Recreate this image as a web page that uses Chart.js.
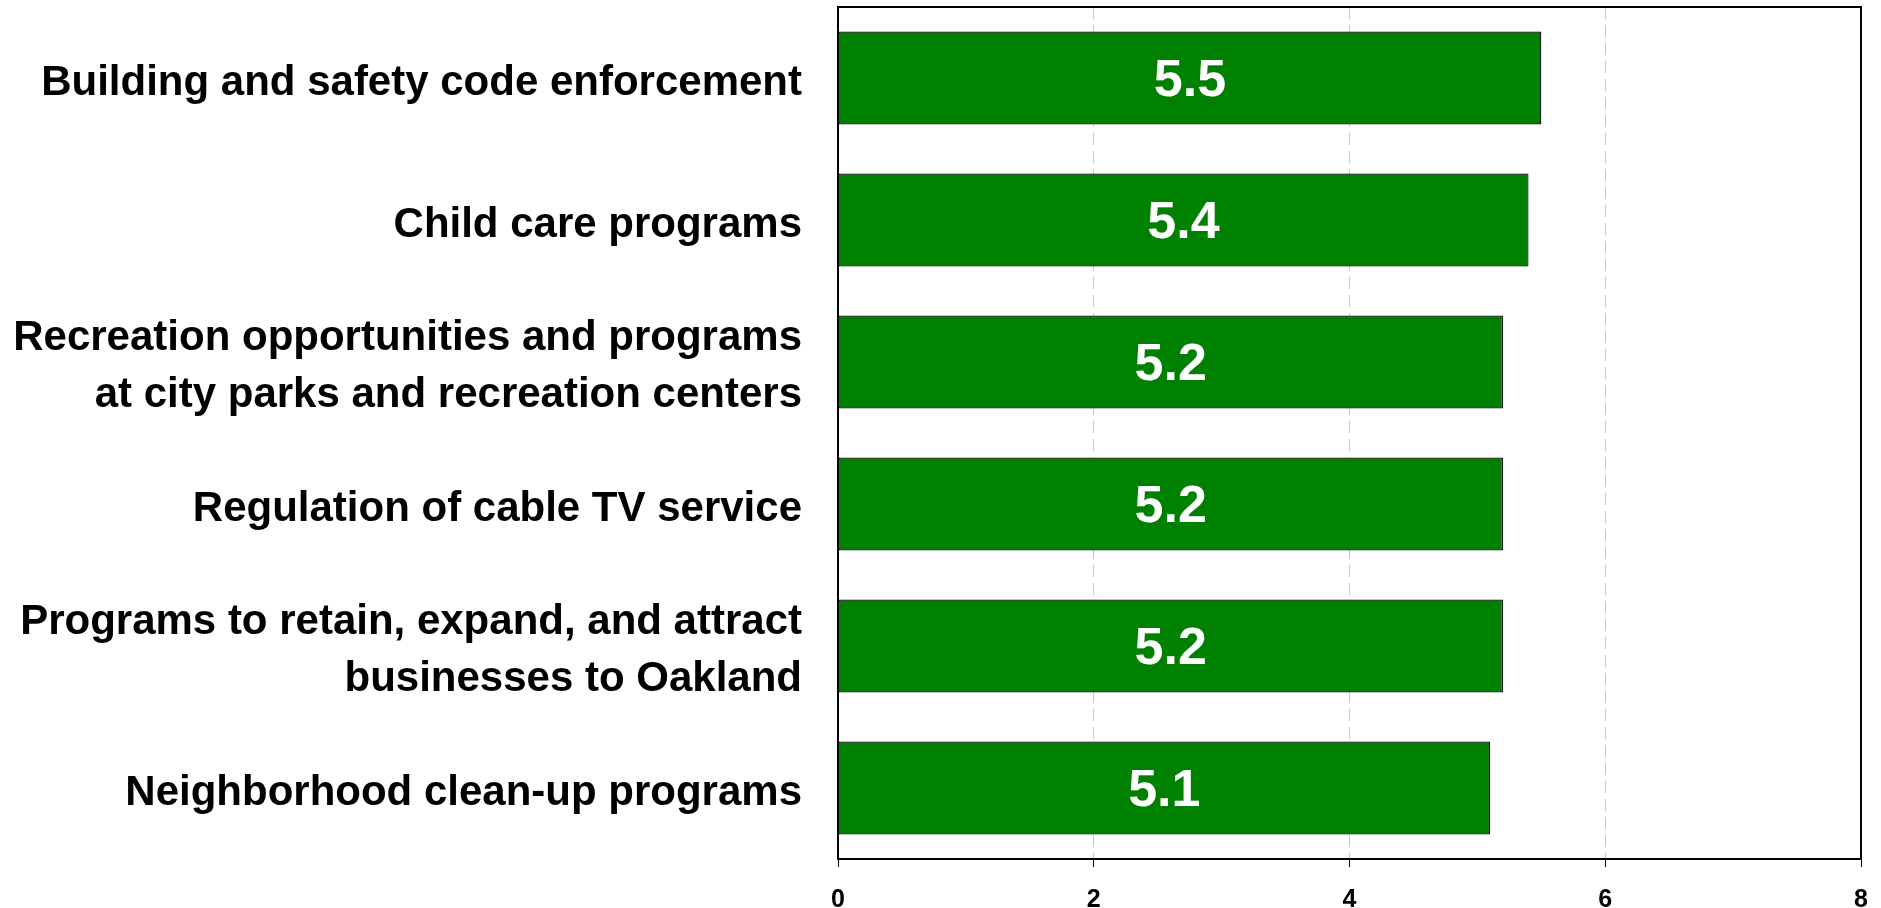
<!DOCTYPE html>
<html>
<head>
<meta charset="utf-8">
<script src="https://cdn.jsdelivr.net/npm/chart.js@4/dist/chart.umd.min.js"></script>
<style>
  body { margin: 0; background: #fff; }
  #wrap { width: 1881px; height: 908px; }
</style>
</head>
<body>
<div id="wrap"><canvas id="ratingChart"></canvas></div>
<script>
// Category labels (multi-line ones split into arrays)
const categories = [
    'Building and safety code enforcement',
    'Child care programs',
    ['Recreation opportunities and programs', 'at city parks and recreation centers'],
    'Regulation of cable TV service',
    ['Programs to retain, expand, and attract', 'businesses to Oakland'],
    'Neighborhood clean-up programs'
];
const ratings = [5.5, 5.4, 5.2, 5.2, 5.2, 5.1];
const tickLabels = ['0', '2', '4', '6', '8'];

// white value labels centered inside each bar
const barValues = {
    id: 'barValues',
    afterDatasetsDraw(chart) {
        const ctx = chart.ctx;
        const meta = chart.getDatasetMeta(0);
        ctx.save();
        ctx.fillStyle = '#fff';
        ctx.font = 'bold 52px "Liberation Sans", Arial, sans-serif';
        ctx.textAlign = 'center';
        ctx.textBaseline = 'middle';
        meta.data.forEach((bar, i) => {
            ctx.fillText(ratings[i].toFixed(1), (bar.x + bar.base) / 2, bar.y + 4);
        });
        ctx.restore();
    }
};

// box around the plot area
const plotBox = {
    id: 'plotBox',
    afterDraw(chart) {
        const a = chart.chartArea;
        const ctx = chart.ctx;
        ctx.save();
        ctx.strokeStyle = '#000';
        ctx.lineWidth = 2;
        ctx.strokeRect(a.left, a.top, a.right - a.left, a.bottom - a.top);
        ctx.restore();
    }
};

const ctx = document.getElementById('ratingChart').getContext('2d');
new Chart(ctx, {
    type: 'bar',
    data: {
        labels: categories,
        datasets: [{
            data: ratings,
            backgroundColor: '#008000',
            borderColor: '#000',
            borderWidth: 1.2,
            borderSkipped: false,
            barPercentage: 0.655,
            categoryPercentage: 1
        }]
    },
    options: {
        indexAxis: 'y',
        responsive: true,
        maintainAspectRatio: false,
        animation: false,
        layout: { padding: { left: 0, right: 20, top: 7, bottom: 0 } },
        plugins: {
            legend: { display: false },
            tooltip: { enabled: false }
        },
        scales: {
            x: {
                min: 0,
                max: 8,
                ticks: {
                    stepSize: 2,
                    padding: 18,
                    color: '#000',
                    font: { family: '"Liberation Sans", Arial, sans-serif', size: 25, weight: 'bold' },
                    callback: (v, i) => tickLabels[i]
                },
                grid: {
                    color: '#c8c8c8',
                    tickColor: '#000',
                    tickLength: 8,
                    drawOnChartArea: true
                },
                border: { display: true, color: '#000', width: 2, dash: [12, 6] },
                afterFit(scale) {
                    scale.height = 49;
                    scale.paddingLeft = 0;
                    scale.paddingRight = 0;
                }
            },
            y: {
                ticks: {
                    padding: 36,
                    labelOffset: 5,
                    color: '#000',
                    font: { family: '"Liberation Sans", Arial, sans-serif', size: 42, weight: 'bold', lineHeight: 1.37 }
                },
                grid: { display: false, drawTicks: false },
                border: { display: true, color: '#000', width: 2 },
                afterFit(scale) {
                    scale.width = 838;
                    scale.paddingTop = 0;
                    scale.paddingBottom = 0;
                }
            }
        }
    },
    plugins: [barValues, plotBox]
});
</script>
</body>
</html>
